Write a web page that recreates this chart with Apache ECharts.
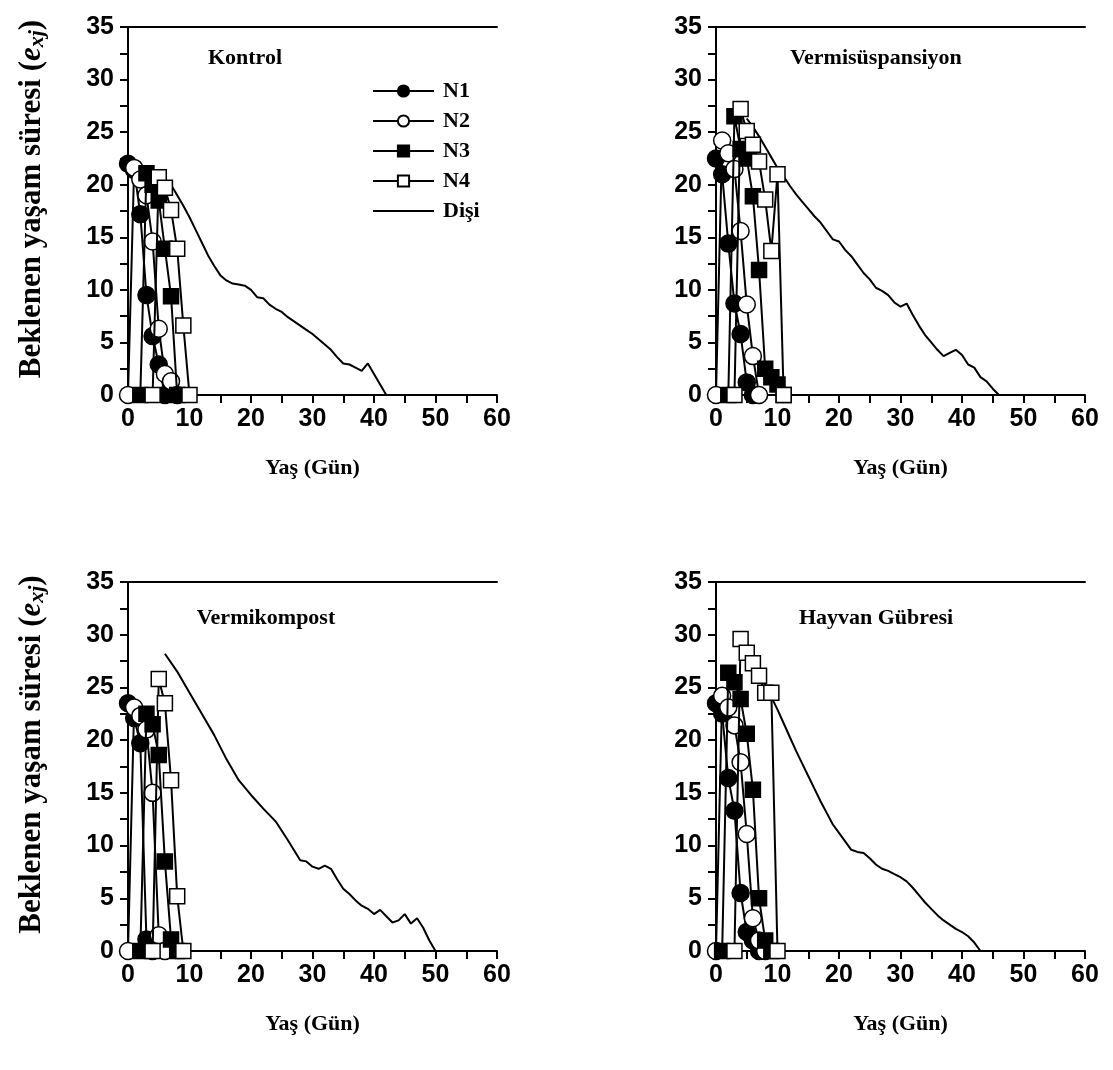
<!DOCTYPE html>
<html>
<head>
<meta charset="utf-8">
<script src="https://cdn.jsdelivr.net/npm/echarts@6/dist/echarts.min.js"></script>
<style>
  html, body { margin: 0; padding: 0; background: #fff; }
  #chart { width: 1113px; height: 1070px; }
</style>
</head>
<body>
<div id="chart"></div>
<script>
// panel titles
const panels = ['Kontrol', 'Vermisüspansiyon', 'Vermikompost', 'Hayvan Gübresi']
const seriesNames = ['N1', 'N2', 'N3', 'N4', 'Dişi']

// [yaş (gün), e_xj]
const kontrolN1 = [[0, 22], [1, 21.4], [2, 17.2], [3, 9.5], [4, 5.6], [5, 2.9], [6, 0]]
const kontrolN2 = [[0, 0], [1, 21.6], [2, 20.5], [3, 19], [4, 14.6], [5, 6.3], [6, 2], [7, 1.3], [8, 0]]
const kontrolN3 = [[2, 0], [3, 21.1], [4, 20], [5, 18.5], [6, 13.9], [7, 9.4], [8, 0]]
const kontrolN4 = [[4, 0], [5, 20.7], [6, 19.7], [7, 17.6], [8, 13.9], [9, 6.6], [10, 0]]
const kontrolDisi = [[7, 20], [8, 19], [9, 18], [10, 16.9], [11, 15.7], [12, 14.5], [13, 13.3], [14, 12.3],
  [15, 11.4], [16, 10.9], [17, 10.6], [18, 10.5], [19, 10.4], [20, 10], [21, 9.3], [22, 9.2], [23, 8.6],
  [24, 8.2], [25, 7.9], [26, 7.4], [27, 7], [28, 6.6], [29, 6.2], [30, 5.8], [31, 5.3], [32, 4.8],
  [33, 4.3], [34, 3.6], [35, 3], [36, 2.9], [37, 2.6], [38, 2.3], [39, 3], [40, 2], [41, 1], [42, 0]]

const susN1 = [[0, 22.5], [1, 21], [2, 14.4], [3, 8.7], [4, 5.8], [5, 1.2], [6, 0]]
const susN2 = [[0, 0], [1, 24.2], [2, 23], [3, 21.5], [4, 15.6], [5, 8.6], [6, 3.7], [7, 0]]
const susN3 = [[2, 0], [3, 26.5], [4, 23.4], [5, 22.5], [6, 18.9], [7, 11.9], [8, 2.5], [9, 1.7], [10, 1], [11, 0]]
const susN4 = [[3, 0], [4, 27.2], [5, 25.1], [6, 23.8], [7, 22.2], [8, 18.6], [9, 13.7], [10, 21], [11, 0]]
const susDisi = [[5, 26.3], [6, 25.5], [7, 24.6], [8, 23.6], [9, 22.6], [10, 21.6], [11, 20.8], [12, 19.9],
  [13, 19.1], [14, 18.4], [15, 17.7], [16, 17], [17, 16.4], [18, 15.6], [19, 14.8], [20, 14.6], [21, 13.8],
  [22, 13.2], [23, 12.4], [24, 11.6], [25, 11], [26, 10.2], [27, 9.9], [28, 9.5], [29, 8.8], [30, 8.4],
  [31, 8.7], [32, 7.6], [33, 6.6], [34, 5.7], [35, 5], [36, 4.3], [37, 3.7], [38, 4], [39, 4.3], [40, 3.8],
  [41, 2.9], [42, 2.6], [43, 1.7], [44, 1.3], [45, 0.6], [46, 0]]

const kompostN1 = [[0, 23.5], [1, 22.1], [2, 19.7], [3, 1.1], [4, 0]]
const kompostN2 = [[0, 0], [1, 23.1], [2, 22.3], [3, 21], [4, 15], [5, 1.5], [6, 0]]
const kompostN3 = [[2, 0], [3, 22.5], [4, 21.5], [5, 18.6], [6, 8.5], [7, 1.1], [8, 0]]
const kompostN4 = [[4, 0], [5, 25.8], [6, 23.5], [7, 16.2], [8, 5.2], [9, 0]]
const kompostDisi = [[6, 28.2], [8, 26.5], [10, 24.5], [12, 22.5], [14, 20.5], [16, 18.2], [18, 16.2],
  [20, 14.8], [22, 13.5], [24, 12.3], [26, 10.5], [28, 8.6], [29, 8.5], [30, 8], [31, 7.8], [32, 8.1],
  [33, 7.8], [34, 6.8], [35, 5.9], [36, 5.4], [37, 4.8], [38, 4.3], [39, 4], [40, 3.5], [41, 3.9],
  [42, 3.3], [43, 2.7], [44, 2.9], [45, 3.5], [46, 2.6], [47, 3.1], [48, 2.2], [49, 1], [50, 0]]

const gubreN1 = [[0, 23.5], [1, 22.5], [2, 16.4], [3, 13.3], [4, 5.5], [5, 1.8], [6, 1], [7, 0]]
const gubreN2 = [[0, 0], [1, 24.2], [2, 23.1], [3, 21.4], [4, 17.9], [5, 11.1], [6, 3.1], [7, 1], [8, 0]]
const gubreN3 = [[1, 0], [2, 26.4], [3, 25.5], [4, 23.9], [5, 20.6], [6, 15.3], [7, 5], [8, 1], [9, 0]]
const gubreN4 = [[3, 0], [4, 29.6], [5, 28.3], [6, 27.3], [7, 26.1], [8, 24.5], [9, 24.5], [10, 0]]
const gubreDisi = [[5, 28.6], [6, 27.6], [7, 26.5], [8, 25.3], [9, 24.1], [10, 22.9], [11, 21.6], [12, 20.3],
  [13, 19], [14, 17.8], [15, 16.6], [16, 15.4], [17, 14.2], [18, 13.1], [19, 12], [20, 11.2], [21, 10.4],
  [22, 9.6], [23, 9.4], [24, 9.3], [25, 8.8], [26, 8.2], [27, 7.8], [28, 7.6], [29, 7.3], [30, 7],
  [31, 6.6], [32, 6], [33, 5.3], [34, 4.6], [35, 4], [36, 3.4], [37, 2.9], [38, 2.5], [39, 2.1],
  [40, 1.8], [41, 1.4], [42, 0.8], [43, 0]]

const panelData = [
  [kontrolN1, kontrolN2, kontrolN3, kontrolN4, kontrolDisi],
  [susN1, susN2, susN3, susN4, susDisi],
  [kompostN1, kompostN2, kompostN3, kompostN4, kompostDisi],
  [gubreN1, gubreN2, gubreN3, gubreN4, gubreDisi]
]

const grids = [
  { left: 128, top: 27, width: 369, height: 368 },
  { left: 716, top: 27, width: 369, height: 368 },
  { left: 128, top: 582, width: 369, height: 369 },
  { left: 716, top: 582, width: 369, height: 369 }
]
const titlePos = [[240, 42], [871, 42], [261, 602], [871, 602]]

const serif = 'Liberation Serif'
const sans = 'Liberation Sans'

const markStyles = [
  { symbol: 'circle', symbolSize: 17, itemStyle: { color: '#000', borderColor: '#000', borderWidth: 1.5 } },
  { symbol: 'circle', symbolSize: 17, itemStyle: { color: '#fff', borderColor: '#000', borderWidth: 1.5 } },
  { symbol: 'rect', symbolSize: 15, itemStyle: { color: '#000', borderColor: '#000', borderWidth: 1.5 } },
  { symbol: 'rect', symbolSize: 15, itemStyle: { color: '#fff', borderColor: '#000', borderWidth: 1.5 } },
  { symbol: 'none', itemStyle: { color: '#000' } }
]

const axisCommon = {
  axisLine: { show: true, lineStyle: { color: '#000', width: 2 } },
  axisTick: { show: true, inside: false, length: 8, lineStyle: { color: '#000', width: 2 } },
  minorTick: { show: true, splitNumber: 2, length: 8, lineStyle: { color: '#000', width: 2 } },
  splitLine: { show: false }
}

const xAxis = []
const yAxis = []
const series = []

grids.forEach((g, i) => {
  xAxis.push({
    type: 'value', gridIndex: i, min: 0, max: 60, interval: 10,
    ...axisCommon,
    axisLabel: { color: '#000', fontFamily: sans, fontWeight: 'bold', fontSize: 25, margin: 12 },
    name: 'Yaş (Gün)', nameLocation: 'middle', nameGap: 62,
    nameTextStyle: { color: '#000', fontFamily: serif, fontWeight: 'bold', fontSize: 22 }
  })
  // top border of the frame
  xAxis.push({
    type: 'value', gridIndex: i, min: 0, max: 60, position: 'top',
    axisLine: { show: true, onZero: false, lineStyle: { color: '#000', width: 2 } },
    axisTick: { show: false }, axisLabel: { show: false }, splitLine: { show: false }
  })
  const left = i % 2 === 0
  yAxis.push({
    type: 'value', gridIndex: i, min: 0, max: 35, interval: 5,
    ...axisCommon,
    axisLabel: { color: '#000', fontFamily: sans, fontWeight: 'bold', fontSize: 25, margin: 14 },
    name: left ? '{t|Beklenen yaşam süresi (}{i|e}{s|xj}{t|)}' : '',
    nameLocation: 'middle', nameGap: 80, nameRotate: 90,
    nameTextStyle: {
      padding: [0, 0, 0, 24],
      rich: {
        t: { fontFamily: serif, fontWeight: 'bold', fontSize: 31, color: '#000' },
        i: { fontFamily: serif, fontWeight: 'bold', fontStyle: 'italic', fontSize: 31, color: '#000' },
        s: { fontFamily: serif, fontWeight: 'bold', fontStyle: 'italic', fontSize: 22, color: '#000', verticalAlign: 'bottom', padding: [10, 0, 0, 0] }
      }
    }
  })
  panelData[i].forEach((d, k) => {
    series.push({
      name: seriesNames[k],
      type: 'line',
      xAxisIndex: i * 2,
      yAxisIndex: i,
      data: d,
      showAllSymbol: true,
      ...markStyles[k],
      lineStyle: { color: '#000', width: 2 },
      emphasis: { disabled: true },
      z: k === 4 ? 1 : 2 + k
    })
  })
})

const title = panels.map((t, i) => ({
  text: t,
  left: titlePos[i][0],
  top: titlePos[i][1],
  textAlign: 'center',
  textStyle: { fontFamily: serif, fontWeight: 'bold', fontSize: 22, color: '#000' }
}))

const legendData = seriesNames.map(n => n === 'Dişi' ? { name: n, itemStyle: { opacity: 0 } } : n)

const option = {
  animation: false,
  backgroundColor: '#fff',
  title,
  legend: {
    data: legendData,
    orient: 'vertical',
    left: 367,
    top: 75,
    itemWidth: 61,
    itemHeight: 14,
    itemGap: 8,
    textStyle: { fontFamily: serif, fontWeight: 'bold', fontSize: 22, color: '#000', padding: [0, 0, 0, 4] }
  },
  grid: grids,
  xAxis,
  yAxis,
  series
}

const chart = echarts.init(document.getElementById('chart'))
chart.setOption(option)
</script>
</body>
</html>
